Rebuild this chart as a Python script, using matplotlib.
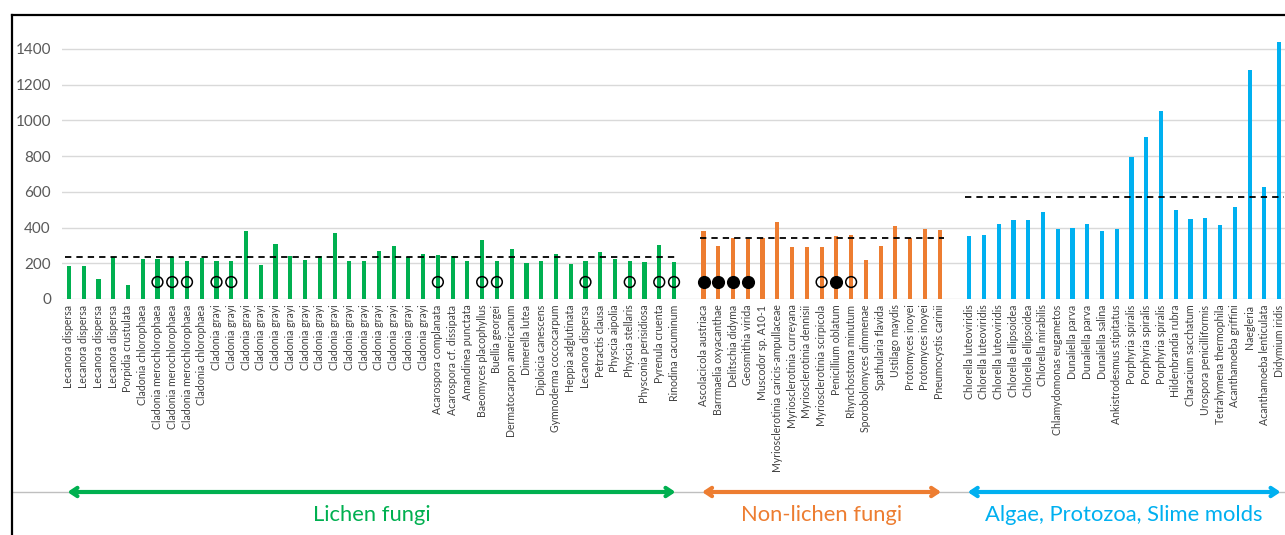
import numpy as np
import matplotlib
matplotlib.use("Agg")
import matplotlib.pyplot as plt
from matplotlib.lines import Line2D

plt.rcParams['font.family'] = ['Lato', 'DejaVu Sans']

# lichen fungi
lichen_names = [
    "Lecanora dispersa", "Lecanora dispersa", "Lecanora dispersa", "Lecanora dispersa",
    "Porpidia crustulata", "Cladonia chlorophaea", "Cladonia merochlorophaea",
    "Cladonia merochlorophaea", "Cladonia merochlorophaea", "Cladonia chlorophaea",
] + ["Cladonia grayi"] * 15 + [
    "Acarospora complanata", "Acarospora cf. dissipata", "Amandinea punctata",
    "Baeomyces placophyllus", "Buellia georgei", "Dermatocarpon americanum",
    "Dimerella lutea", "Diploicia canescens", "Gymnoderma coccocarpum",
    "Heppia adglutinata", "Lecanora dispersa", "Petractis clausa", "Physcia aipolia",
    "Physcia stellaris", "Physconia perisidiosa", "Pyrenula cruenta", "Rinodina cacuminum",
]
lichen_vals = [186, 186, 110, 233, 76, 225, 225, 233, 211, 227,
               214, 211, 378, 192, 309, 242, 220, 242, 369, 211,
               212, 270, 298, 233, 252, 248, 242, 212, 332, 212,
               281, 203, 212, 252, 194, 212, 261, 225, 212, 207,
               302, 207]
lichen_open = [6, 7, 8, 10, 11, 25, 28, 29, 35, 38, 40, 41]
lichen_mean = 233

# non-lichen fungi
fungi_names = [
    "Ascolacicola austriaca", "Barrmaelia oxyacanthae", "Delitschia didyma",
    "Geosmithia virida", "Muscodor sp. A10-1", "Myriosclerotinia caricis-ampullaceae",
    "Myriosclerotinia curreyana", "Myriosclerotinia dennisii", "Myriosclerotinia scirpicola",
    "Penicillium oblatum", "Rhynchostoma minutum", "Sporobolomyces dimmenae",
    "Spathularia flavida", "Ustilago maydis", "Protomyces inoyei", "Protomyces inoyei",
    "Pneumocystis carinii",
]
fungi_vals = [378, 298, 339, 337, 339, 429, 289, 293, 293, 350, 358, 220, 298, 410, 339, 393, 388]
fungi_filled = [0, 1, 2, 3, 9]
fungi_open = [8, 10]
fungi_mean = 341

# algae, protozoa, slime molds
algae_names = [
    "Chlorella luteoviridis", "Chlorella luteoviridis", "Chlorella luteoviridis",
    "Chlorella ellipsoidea", "Chlorella ellipsoidea", "Chlorella mirabilis",
    "Chlamydomonas eugametos", "Dunaliella parva", "Dunaliella parva", "Dunaliella salina",
    "Ankistrodesmus stipitatus", "Porphyria spiralis", "Porphyria spiralis",
    "Porphyria spiralis", "Hildenbrandia rubra", "Characium sacchatum",
    "Urospora penicilliformis", "Tetrahymena thermophila", "Acanthamoeba griffini",
    "Naegleria", "Acanthamoeba lenticulata", "Didymium iridis",
]
algae_vals = [350, 356, 419, 440, 440, 488, 390, 395, 419, 380, 393,
              794, 908, 1055, 500, 446, 451, 412, 516, 1279, 626, 1437]
algae_mean = 570

group_titles = ["Lichen fungi", "Non-lichen fungi", "Algae, Protozoa, Slime molds"]
group_colors = ["#00B050", "#ED7D31", "#00B0F0"]

marker_y = 95

fig = plt.figure(figsize=(12.85, 5.35), dpi=100)
ax = fig.add_axes([62 / 1285, 1 - 299 / 535, 1223 / 1285, 268 / 535])

x_l = np.arange(len(lichen_vals))
x_f = np.arange(len(fungi_vals)) + len(lichen_vals) + 1
x_a = np.arange(len(algae_vals)) + x_f[-1] + 2

groups = [(x_l, lichen_vals), (x_f, fungi_vals), (x_a, algae_vals)]
means = [lichen_mean, fungi_mean, algae_mean]

for (xs, vals), col, m in zip(groups, group_colors, means):
    ax.bar(xs, vals, width=0.28, color=col, zorder=2)
    ax.hlines(m, xs[0] - 0.25, xs[-1] + 0.3, colors='black', linestyles=(0, (3.5, 2.8)),
              lw=1.3, zorder=3)

ax.scatter(x_l[lichen_open], [marker_y] * len(lichen_open), s=60, facecolors='none',
           edgecolors='black', linewidths=1.1, zorder=4)
ax.scatter(x_f[fungi_open], [marker_y] * len(fungi_open), s=60, facecolors='none',
           edgecolors='black', linewidths=1.1, zorder=4)
ax.scatter(x_f[fungi_filled], [marker_y] * len(fungi_filled), s=70, facecolors='black',
           edgecolors='black', linewidths=1.1, zorder=4)

ax.set_xlim(-0.47, 82.4)
ax.set_ylim(0, 1500)
ax.set_yticks(np.arange(0, 1401, 200))
ax.yaxis.grid(True, color='#D9D9D9', lw=1, zorder=0)
ax.set_axisbelow(True)
for s in ax.spines.values():
    s.set_visible(False)

ax.set_xticks(np.concatenate([x_l, x_f, x_a]))
ax.set_xticklabels(lichen_names + fungi_names + algae_names, rotation=90,
                   fontsize=7.6, color='#404040')
ax.tick_params(axis='x', length=0, pad=4)
ax.tick_params(axis='y', length=0, pad=8, labelsize=11, labelcolor='#595959')

# group arrows and titles below the labels
trans = ax.get_xaxis_transform()
arrow_y = (299 - 492) / 268
title_y = (299 - 515) / 268
for (xs, vals), col, title in zip(groups, group_colors, group_titles):
    x0, x1 = xs[0] - 0.1, xs[-1] + 0.1
    ax.annotate("", xy=(x1, arrow_y), xytext=(x0, arrow_y), xycoords=trans,
                textcoords=trans, annotation_clip=False,
                arrowprops=dict(arrowstyle='<->,head_length=0.45,head_width=0.3',
                                color=col, lw=3, shrinkA=0, shrinkB=0))
    ax.text((x0 + x1) / 2, title_y, title, transform=trans, color=col,
            fontsize=15.8, ha='center', va='center', clip_on=False)

# frame and separator line
fig.add_artist(Line2D([12 / 1285, 1], [1 - 492 / 535] * 2, color='#BFBFBF', lw=1, zorder=0))
fig.add_artist(Line2D([12 / 1285, 12 / 1285], [0, 1 - 15 / 535], color='black', lw=1.6))
fig.add_artist(Line2D([12 / 1285, 1], [1 - 15 / 535] * 2, color='black', lw=1.6))

fig.savefig("out.png", dpi=100)
